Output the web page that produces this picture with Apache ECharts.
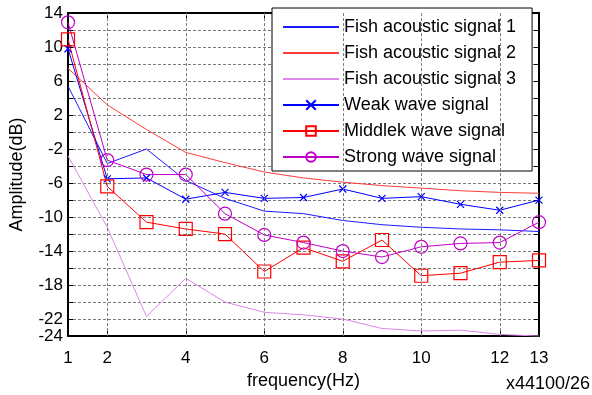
<!DOCTYPE html>
<html>
<head>
<meta charset="utf-8">
<script src="https://cdn.jsdelivr.net/npm/echarts@6/dist/echarts.min.js"></script>
<style>
  html, body { margin: 0; padding: 0; background: #fff; }
  #chart { width: 592px; height: 395px; }
</style>
</head>
<body>
<div id="chart"></div>
<script>
// Frequency bins (multiples of 44100/26 Hz)
var freq = [1, 2, 3, 4, 5, 6, 7, 8, 9, 10, 11, 12, 13];
var xTickValues = [1, 2, 4, 6, 8, 10, 12, 13];
var xGridValues = [2, 4, 6, 8, 10, 12];

// Amplitude in dB for each signal
var fish1   = [5.4, -3.7, -2.0, -5.7, -7.8, -9.3, -9.6, -10.4, -10.9, -11.2, -11.4, -11.5, -11.7];
var fish2   = [7.5, 3.2, 0.3, -2.4, -3.6, -4.7, -5.4, -5.9, -6.3, -6.6, -6.9, -7.1, -7.2];
var fish3   = [-2.8, -11.2, -21.7, -17.2, -20.0, -21.2, -21.5, -22.0, -23.1, -23.4, -23.3, -23.8, -24.0];
var weak    = [9.8, -5.5, -5.4, -7.9, -7.1, -7.8, -7.7, -6.7, -7.8, -7.6, -8.5, -9.2, -8.0];
var middlek = [10.9, -6.4, -10.6, -11.4, -12.0, -16.4, -13.6, -15.2, -12.7, -16.9, -16.6, -15.3, -15.1];
var strong  = [12.9, -3.3, -5.0, -5.0, -9.6, -12.1, -13.0, -14.0, -14.7, -13.5, -13.1, -13.0, -10.6];

var seriesNames = [
  'Fish acoustic signal 1',
  'Fish acoustic signal 2',
  'Fish acoustic signal 3',
  'Weak wave signal',
  'Middlek wave signal',
  'Strong wave signal'
];

var FONT = '"Liberation Sans", Arial, Helvetica, sans-serif';
var FS = 18;       // legend and axis titles
var TICK_FS = 17;  // tick labels
var GRID_COLOR = '#7a7a7a';

function pairs(ys) {
  return freq.map(function (x, i) { return [x, ys[i]]; });
}

function plainLine(name, ys, color) {
  return {
    name: name, type: 'line', data: pairs(ys),
    symbol: 'none', z: 3,
    lineStyle: { color: color, width: 1 },
    itemStyle: { color: color },
    emphasis: { disabled: true }
  };
}

function markedLine(name, ys, color, symbol, size) {
  return {
    name: name, type: 'line', data: pairs(ys),
    symbol: symbol, symbolSize: size, showSymbol: true, z: 4,
    lineStyle: { color: color, width: 1 },
    itemStyle: { color: 'rgba(0,0,0,0)', borderColor: color, borderWidth: 1.2 },
    emphasis: { disabled: true }
  };
}

// legend entries: plain lines show only the stroke sample
var legendData = seriesNames.map(function (n, i) {
  return i < 3 ? { name: n, itemStyle: { opacity: 0 } } : { name: n };
});

var chart = echarts.init(document.getElementById('chart'), null, { renderer: 'canvas' });

var option = {
  animation: false,
  backgroundColor: '#fff',
  textStyle: { fontFamily: FONT },
  grid: { left: 66, right: 53, top: 13, bottom: 50, containLabel: false },
  xAxis: [{
    type: 'value', min: 1, max: 13, position: 'bottom',
    name: 'frequency(Hz)', nameLocation: 'middle', nameGap: 31,
    nameTextStyle: { fontSize: FS, color: '#000', fontFamily: FONT },
    axisLine: { show: true, onZero: false, lineStyle: { color: '#000', width: 2 } },
    axisTick: { show: true, inside: true, length: 5, customValues: xTickValues, lineStyle: { color: '#000' } },
    axisLabel: { show: true, customValues: xTickValues, fontSize: TICK_FS, color: '#000', margin: 14, fontFamily: FONT },
    splitLine: { show: false }
  }, {
    type: 'value', min: 1, max: 13, position: 'top',
    axisLine: { show: true, onZero: false, lineStyle: { color: '#000', width: 2 } },
    axisTick: { show: true, inside: true, length: 5, customValues: xTickValues, lineStyle: { color: '#000' } },
    axisLabel: { show: false },
    splitLine: { show: false }
  }],
  yAxis: [{
    type: 'value', min: -24, max: 14, interval: 2, position: 'left',
    name: 'Amplitude(dB)', nameLocation: 'middle', nameRotate: 90, nameGap: 42,
    nameTextStyle: { fontSize: FS, color: '#000', fontFamily: FONT },
    axisLine: { show: true, onZero: false, lineStyle: { color: '#000', width: 2 } },
    axisTick: { show: true, inside: true, length: 5, lineStyle: { color: '#000' } },
    axisLabel: {
      fontSize: TICK_FS, color: '#000', margin: 5, fontFamily: FONT,
      showMinLabel: true, showMaxLabel: true, hideOverlap: false,
      formatter: function (v) {
        return ((14 - v) % 4 === 0 || v === -24) ? String(v) : '';
      }
    },
    splitLine: { show: true, lineStyle: { color: GRID_COLOR, width: 1, type: [3, 2] } }
  }, {
    type: 'value', min: -24, max: 14, interval: 2, position: 'right',
    axisLine: { show: true, onZero: false, lineStyle: { color: '#000', width: 2 } },
    axisTick: { show: true, inside: true, length: 5, lineStyle: { color: '#000' } },
    axisLabel: { show: false },
    splitLine: { show: false }
  }],
  legend: {
    data: legendData,
    orient: 'vertical',
    left: 272, top: 8,
    padding: [9, 16, 4, 10],
    itemGap: 6,
    itemWidth: 56, itemHeight: 12,
    backgroundColor: '#fff',
    borderColor: '#000', borderWidth: 1,
    textStyle: { fontSize: FS, color: '#000', lineHeight: 20, fontFamily: FONT },
    selectedMode: false
  },
  graphic: [{
    type: 'text', right: 2, top: 375,
    style: { text: 'x44100/26', fontSize: FS, fill: '#000', fontFamily: FONT }
  }],
  series: [
    {
      // vertical grid lines at the labelled even frequencies
      name: '_grid', type: 'line', data: [], z: 1, silent: true,
      markLine: {
        silent: true, symbol: 'none', label: { show: false },
        lineStyle: { color: GRID_COLOR, width: 1, type: [3, 2] },
        emphasis: { disabled: true },
        data: xGridValues.map(function (v) { return { xAxis: v }; })
      }
    },
    plainLine(seriesNames[0], fish1, '#1a1aff'),
    plainLine(seriesNames[1], fish2, '#ff3b3b'),
    plainLine(seriesNames[2], fish3, '#dd88e8'),
    markedLine(seriesNames[3], weak, '#0000ff', 'path://M0,0L10,10M10,0L0,10', 7),
    markedLine(seriesNames[4], middlek, '#ff0000', 'rect', 13),
    markedLine(seriesNames[5], strong, '#c000c8', 'circle', 13)
  ]
};

chart.setOption(option);
</script>
</body>
</html>
